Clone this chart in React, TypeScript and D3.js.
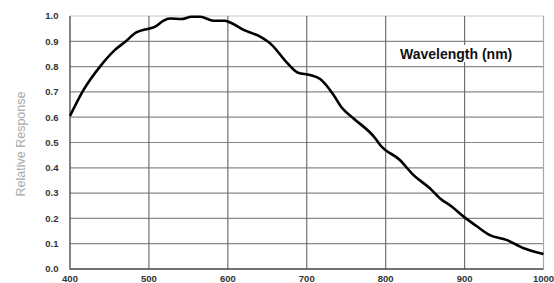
import React, { useEffect, useRef } from "react";
import * as d3 from "d3";

// spectral response curve
const wavelengths = [400, 417, 438, 457, 470, 484, 501, 508, 518, 527, 541, 554, 565, 582, 596, 603, 620, 641, 656, 672, 689, 704, 717, 734, 744, 759, 787, 793, 818, 835, 856, 869, 884, 900, 915, 932, 953, 975, 1000];
const response = [0.605, 0.707, 0.8, 0.866, 0.898, 0.935, 0.951, 0.958, 0.981, 0.99, 0.988, 0.997, 0.997, 0.981, 0.981, 0.974, 0.945, 0.918, 0.885, 0.826, 0.776, 0.767, 0.751, 0.688, 0.639, 0.596, 0.516, 0.49, 0.431, 0.372, 0.319, 0.279, 0.246, 0.204, 0.17, 0.134, 0.115, 0.082, 0.059];

const xTicks = [400, 500, 600, 700, 800, 900, 1000];
const yTicks = [0, 0.1, 0.2, 0.3, 0.4, 0.5, 0.6, 0.7, 0.8, 0.9, 1.0];

const width = 554;
const height = 283;
const margin = { top: 16, right: 10.5, bottom: 14, left: 70 };

const App = () => {
  const canvas = useRef<SVGSVGElement>(null);

  useEffect(() => {
    const svg = d3.select(canvas.current);
    svg.selectAll("*").remove();

    const x = d3
      .scaleLinear()
      .domain([400, 1000])
      .range([margin.left, width - margin.right]);
    const y = d3
      .scaleLinear()
      .domain([0, 1])
      .range([height - margin.bottom, margin.top]);

    // grid
    svg
      .append("g")
      .selectAll("line")
      .data(yTicks.slice(1))
      .enter()
      .append("line")
      .attr("x1", x(400))
      .attr("x2", x(1000))
      .attr("y1", (d) => y(d))
      .attr("y2", (d) => y(d))
      .attr("stroke", (d) => (d === 1 ? "#c8c8c8" : "#888"))
      .attr("stroke-width", 1.2);

    svg
      .append("g")
      .selectAll("line")
      .data(xTicks.slice(1))
      .enter()
      .append("line")
      .attr("x1", (d) => x(d))
      .attr("x2", (d) => x(d))
      .attr("y1", y(1))
      .attr("y2", y(0))
      .attr("stroke", (d) => (d === 1000 ? "#a8a8a8" : "#707070"))
      .attr("stroke-width", 1.2);

    // left and bottom axis lines
    svg
      .append("path")
      .attr("d", `M${x(400)},${y(1)}V${y(0)}H${x(1000)}`)
      .attr("fill", "none")
      .attr("stroke", "#444")
      .attr("stroke-width", 1.3);

    // tick labels
    svg
      .append("g")
      .selectAll("text")
      .data(yTicks)
      .enter()
      .append("text")
      .text((d) => d.toFixed(1))
      .attr("x", 58.5)
      .attr("y", (d) => y(d))
      .attr("dy", "0.35em")
      .attr("text-anchor", "end")
      .attr("font-family", "Liberation Sans, Arial, sans-serif")
      .attr("font-size", 9.5)
      .attr("font-weight", "bold")
      .attr("fill", "#333");

    svg
      .append("g")
      .selectAll("text")
      .data(xTicks)
      .enter()
      .append("text")
      .text((d) => d)
      .attr("x", (d) => x(d))
      .attr("y", 282)
      .attr("text-anchor", "middle")
      .attr("font-family", "Liberation Sans, Arial, sans-serif")
      .attr("font-size", 9.5)
      .attr("font-weight", "bold")
      .attr("fill", "#333");

    // curve
    const line = d3
      .line<number>()
      .x((d, i) => x(wavelengths[i]))
      .y((d) => y(d))
      .curve(d3.curveMonotoneX);
    svg
      .append("path")
      .datum(response)
      .attr("d", line)
      .attr("fill", "none")
      .attr("stroke", "#000")
      .attr("stroke-width", 2.6)
      .attr("stroke-linejoin", "round");

    // in-plot label
    svg
      .append("rect")
      .attr("x", 397)
      .attr("y", 45)
      .attr("width", 127)
      .attr("height", 17)
      .attr("fill", "#fff");
    svg
      .append("text")
      .text("Wavelength (nm)")
      .attr("x", 400)
      .attr("y", 59)
      .attr("font-family", "Liberation Sans, Arial, sans-serif")
      .attr("font-size", 14)
      .attr("font-weight", "bold")
      .attr("fill", "#111");

    // y axis title
    svg
      .append("text")
      .text("Relative Response")
      .attr("transform", `translate(25,144) rotate(-90)`)
      .attr("text-anchor", "middle")
      .attr("font-family", "Liberation Sans, Arial, sans-serif")
      .attr("font-size", 12.5)
      .attr("fill", "#aaa");
  }, []);

  return (
    <svg
      ref={canvas}
      width={width}
      height={height}
      style={{ position: "absolute", left: 0, top: 0, background: "#fff" }}
    />
  );
};

export default App;
